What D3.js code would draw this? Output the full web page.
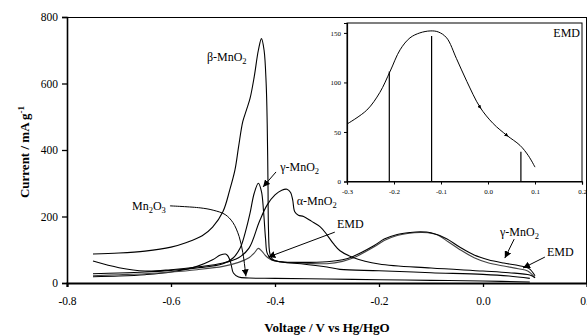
<!DOCTYPE html>
<html><head><meta charset="utf-8">
<script src="https://cdn.jsdelivr.net/npm/d3@7"></script>
<style>
html,body{margin:0;padding:0;background:#fff;}
svg{display:block;font-family:"Liberation Serif","Times New Roman",serif;}
</style></head>
<body><svg id="c" width="587" height="336"></svg>
<script>
// ---- data ----
const xTicks = [-0.8, -0.6, -0.4, -0.2, 0.0, 0.2];
const yTicks = [0, 200, 400, 600, 800];
const insetXTicks = [-0.3, -0.2, -0.1, 0.0, 0.1, 0.2];
const insetYTicks = [0, 50, 100, 150];

const betaMnO2 = [[-0.75,87],[-0.7,90],[-0.65,96],[-0.6,108],[-0.57,122],[-0.54,142],[-0.52,168],[-0.5,215],[-0.487,280],[-0.477,340],[-0.47,410],[-0.462,485],[-0.455,520],[-0.448,555],[-0.44,620],[-0.432,700],[-0.426,735],[-0.421,700],[-0.417,600],[-0.415,480],[-0.4135,300],[-0.4125,160],[-0.41,90],[-0.405,72],[-0.39,64],[-0.35,58],[-0.3,48],[-0.275,41],[-0.2,37],[-0.1,31],[0.0,26],[0.05,21],[0.09,14]];
const gammaMnO2 = [[-0.75,28],[-0.7,30],[-0.65,33],[-0.6,38],[-0.55,45],[-0.5,58],[-0.48,76],[-0.467,105],[-0.455,165],[-0.448,210],[-0.44,270],[-0.432,300],[-0.426,275],[-0.422,215],[-0.418,130],[-0.415,90],[-0.406,70],[-0.39,64],[-0.35,62],[-0.3,64],[-0.27,70],[-0.25,80],[-0.21,112],[-0.19,132],[-0.165,146],[-0.14,152],[-0.12,154],[-0.1,151],[-0.07,133],[-0.045,108],[-0.017,84],[0.01,70],[0.04,60],[0.07,52],[0.088,44],[0.1,22]];
const alphaMnO2 = [[-0.75,66],[-0.7,46],[-0.65,36],[-0.6,40],[-0.55,48],[-0.5,60],[-0.47,76],[-0.45,105],[-0.43,185],[-0.415,235],[-0.4,265],[-0.387,279],[-0.377,282],[-0.37,272],[-0.366,250],[-0.362,214],[-0.355,204],[-0.345,200],[-0.33,186],[-0.313,169],[-0.3,145],[-0.288,119],[-0.275,97],[-0.25,77],[-0.2,57],[-0.1,45],[0.0,36],[0.05,31],[0.09,24],[0.1,16]];
const emd = [[-0.75,22],[-0.7,25],[-0.65,28],[-0.6,33],[-0.55,40],[-0.5,50],[-0.47,62],[-0.45,76],[-0.44,90],[-0.432,104],[-0.425,95],[-0.418,82],[-0.41,72],[-0.4,66],[-0.38,62],[-0.35,60],[-0.3,58],[-0.27,65],[-0.25,75],[-0.21,108],[-0.19,128],[-0.165,143],[-0.145,149],[-0.12,152],[-0.105,151],[-0.088,145],[-0.067,124],[-0.045,101],[-0.017,76],[0.011,60],[0.04,51],[0.068,43],[0.086,36],[0.1,16]];
const mn2o3 = [[-0.75,19],[-0.7,21],[-0.65,25],[-0.6,33],[-0.55,50],[-0.52,70],[-0.505,84],[-0.495,87],[-0.49,80],[-0.485,60],[-0.48,30],[-0.47,18],[-0.45,15],[-0.4,14],[-0.3,12],[-0.2,10],[-0.1,8],[0.0,6],[0.09,3]];

const insetEMD = [[-0.3,58],[-0.258,72],[-0.23,90],[-0.2085,111],[-0.187,133],[-0.166,145],[-0.145,150],[-0.123,152],[-0.106,151],[-0.088,145],[-0.067,124],[-0.045,101],[-0.017,75],[0.011,58.5],[0.04,46.6],[0.068,36.5],[0.086,26],[0.1,14.5]];
const insetLinesV = [-0.21, -0.12, 0.07];
const insetLinesI = [111, 147, 30];

// ---- drawing ----
const svg = d3.select("#c");
const x = d3.scaleLinear().domain([-0.8, 0.2]).range([67, 587]);
const y = d3.scaleLinear().domain([0, 800]).range([283, 17]);
const fmt1 = d => d.toFixed(1);

const defs = svg.append("defs");
defs.append("marker").attr("id","ah").attr("viewBox","0 0 10 10").attr("refX",10).attr("refY",5)
  .attr("markerWidth",7).attr("markerHeight",7).attr("orient","auto").attr("markerUnits","userSpaceOnUse")
  .append("path").attr("d","M0,0 L10,5 L0,10 Z").attr("fill","#000");
defs.append("marker").attr("id","ahs").attr("viewBox","0 0 10 10").attr("refX",5).attr("refY",5)
  .attr("markerWidth",4).attr("markerHeight",4).attr("orient","auto").attr("markerUnits","userSpaceOnUse")
  .append("path").attr("d","M0,0 L10,5 L0,10 Z").attr("fill","#000");

// frame
svg.append("line").attr("x1",67).attr("x2",587).attr("y1",17.5).attr("y2",17.5).attr("stroke","#000").attr("stroke-width",1.2);
svg.append("line").attr("x1",586.5).attr("x2",586.5).attr("y1",17).attr("y2",283).attr("stroke","#000").attr("stroke-width",1);

// axes
const xAxis = svg.append("g").attr("transform","translate(0,283)")
  .call(d3.axisBottom(x).tickValues(xTicks).tickFormat(fmt1).tickSize(4).tickPadding(10));
const yAxis = svg.append("g").attr("transform","translate(67,0)")
  .call(d3.axisLeft(y).tickValues(yTicks).tickSize(5).tickPadding(4));
[xAxis, yAxis].forEach(g => {
  g.selectAll("text").attr("font-family","Liberation Serif").attr("font-size",11.5).attr("fill","#000");
  g.selectAll("line").attr("stroke","#000").attr("stroke-width",1.3);
});
xAxis.select(".domain").attr("stroke","#000").attr("stroke-width",2.2);
yAxis.select(".domain").attr("stroke","#000").attr("stroke-width",1.6);

// axis titles
svg.append("text").attr("x",327).attr("y",332).attr("text-anchor","middle")
  .attr("font-weight","bold").attr("font-size",13).text("Voltage / V vs Hg/HgO");
const yt = svg.append("text").attr("transform","translate(29,152) rotate(-90)").attr("text-anchor","middle")
  .attr("font-weight","bold").attr("font-size",13);
yt.append("tspan").text("Current / mA g");
yt.append("tspan").attr("dy",-5).attr("font-size",9).text("-1");

// curves
const line = d3.line().x(d => x(d[0])).y(d => y(d[1])).curve(d3.curveCatmullRom.alpha(0.5));
const series = [
  {d: mn2o3, c:"#000"},
  {d: emd, c:"#444"},
  {d: gammaMnO2, c:"#000"},
  {d: alphaMnO2, c:"#000"},
  {d: betaMnO2, c:"#000"}
];
series.forEach(s => svg.append("path").attr("d", line(s.d)).attr("fill","none").attr("stroke",s.c).attr("stroke-width",1.1));

// labels
function chem(tx, ty, parts, anchor){
  const t = svg.append("text").attr("x",tx).attr("y",ty).attr("font-size",12).attr("text-anchor",anchor||"start");
  parts.forEach(p => {
    if (p[1]) t.append("tspan").attr("font-size",8.5).attr("dy",3).text(p[0]);
    else t.append("tspan").attr("dy", p[2]||0).text(p[0]);
  });
  return t;
}
function arrow(pts){
  svg.append("path").attr("d", d3.line().x(d=>x(d[0])).y(d=>y(d[1])).curve(d3.curveCatmullRom)(pts))
    .attr("fill","none").attr("stroke","#000").attr("stroke-width",1).attr("marker-end","url(#ah)");
}
chem(x(-0.531), y(668), [["β-MnO"],["2",1]]);
chem(x(-0.390), y(337), [["γ-MnO"],["2",1]]);
arrow([[-0.398,334],[-0.423,289]]);
chem(x(-0.358), y(235), [["α-MnO"],["2",1]]);
chem(x(-0.281), y(165), [["EMD"]]);
arrow([[-0.285,153],[-0.413,78]]);
chem(x(-0.675), y(220), [["Mn"],["2",1],["O",0,-3],["3",1]]);
arrow([[-0.602,232],[-0.544,226],[-0.519,219],[-0.496,206],[-0.481,182],[-0.469,140],[-0.462,92],[-0.458,48],[-0.456,20]]);
chem(x(0.0327), y(141), [["γ-MnO"],["2",1]]);
arrow([[0.06,132],[0.042,75]]);
chem(x(0.123), y(81), [["EMD"]]);
arrow([[0.119,78],[0.077,45]]);

// ---- inset ----
const ix = d3.scaleLinear().domain([-0.3, 0.2]).range([347, 582]);
const iy = d3.scaleLinear().domain([0, 160]).range([181.5, 23]);
svg.append("rect").attr("x",347).attr("y",23).attr("width",235).attr("height",158.5).attr("fill","#fff").attr("stroke","#000").attr("stroke-width",1);
const ixA = svg.append("g").attr("transform","translate(0,181.5)")
  .call(d3.axisBottom(ix).tickValues(insetXTicks).tickFormat(fmt1).tickSize(3).tickPadding(5));
const iyA = svg.append("g").attr("transform","translate(347,0)")
  .call(d3.axisLeft(iy).tickValues(insetYTicks).tickSize(3).tickPadding(3));
[ixA, iyA].forEach(g => {
  g.selectAll("text").attr("font-family","Liberation Serif").attr("font-size",7).attr("fill","#000");
  g.selectAll("line").attr("stroke","#000");
  g.select(".domain").attr("stroke","#000").attr("stroke-width",1.2);
});
svg.append("path").attr("d", d3.line().x(d=>ix(d[0])).y(d=>iy(d[1])).curve(d3.curveCatmullRom.alpha(0.5))(insetEMD))
  .attr("fill","none").attr("stroke","#000").attr("stroke-width",1);
// small direction marks on inset curve
[[ -0.017, 75, 0.011, 58.5], [0.04, 46.6, 0.068, 36.5]].forEach(p => {
  svg.append("line").attr("x1",ix(p[0])).attr("y1",iy(p[1])).attr("x2",ix(p[2])).attr("y2",iy(p[3]))
    .attr("stroke","none").attr("marker-start","url(#ahs)");
});
insetLinesV.forEach((v,i) => svg.append("line").attr("x1",ix(v)).attr("x2",ix(v)).attr("y1",iy(0)).attr("y2",iy(insetLinesI[i]))
  .attr("stroke","#000").attr("stroke-width",1.2));
svg.append("text").attr("x",580).attr("y",37).attr("text-anchor","end").attr("font-size",12).text("EMD");
</script></body></html>
